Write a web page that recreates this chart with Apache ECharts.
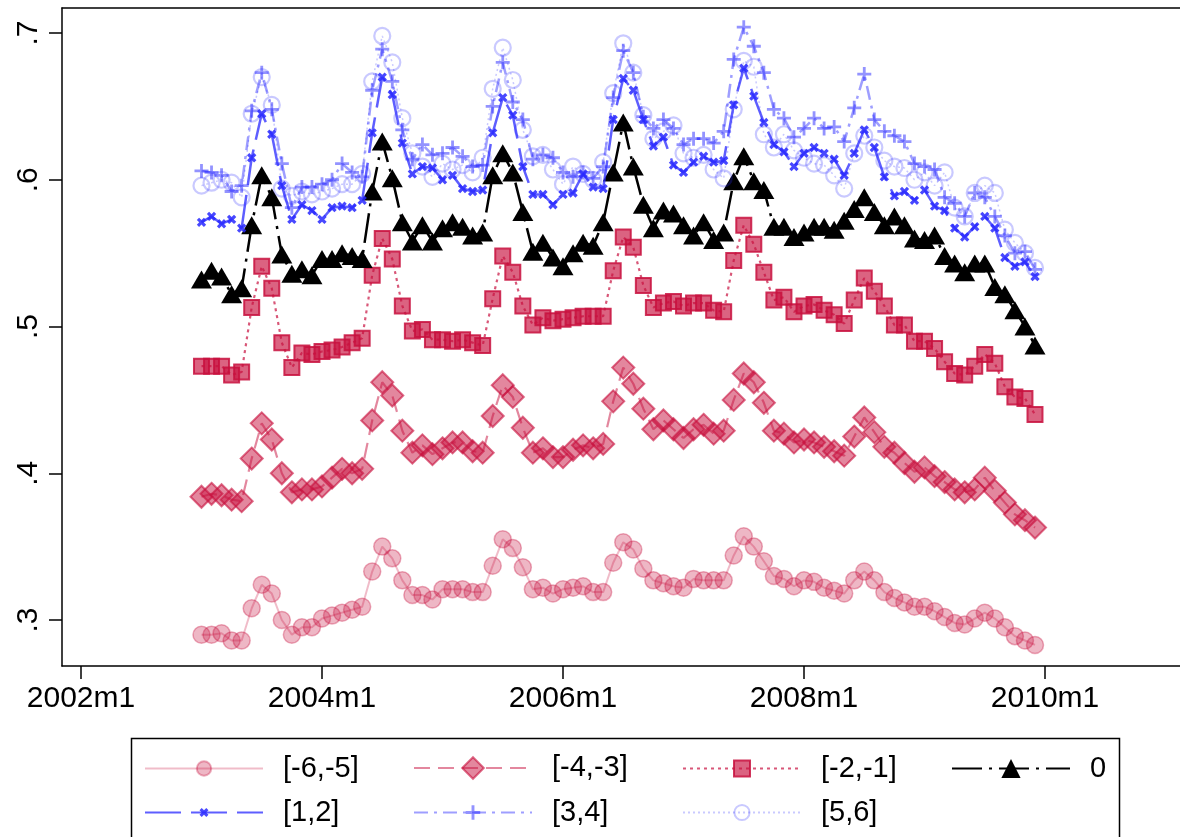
<!DOCTYPE html>
<html><head><meta charset="utf-8">
<script src="https://cdn.jsdelivr.net/npm/echarts@6/dist/echarts.min.js"></script>
<style>html,body{margin:0;padding:0;background:#fff}#c{width:1180px;height:837px}</style>
</head><body><div id="c"></div>
<script>
// months counted from 2002m1 (=0); data start at 2003m1
const startMonth = 12;
const xTickValues = [0, 24, 48, 72, 96];
const xTickLabels = ['2002m1', '2004m1', '2006m1', '2008m1', '2010m1'];
const yTickValues = [0.3, 0.4, 0.5, 0.6, 0.7];
const yTickLabels = ['.3', '.4', '.5', '.6', '.7'];
const seriesNames = ['[-6,-5]', '[-4,-3]', '[-2,-1]', '0', '[1,2]', '[3,4]', '[5,6]'];

const sM65 = [
  0.290, 0.290, 0.291, 0.286, 0.286, 0.308, 0.324, 0.318, 0.300, 0.290, 0.295, 0.295,
  0.301, 0.303, 0.305, 0.307, 0.309, 0.333, 0.350, 0.342, 0.327, 0.317, 0.317, 0.314,
  0.321, 0.321, 0.321, 0.319, 0.319, 0.337, 0.355, 0.349, 0.336, 0.321, 0.322, 0.318,
  0.321, 0.322, 0.323, 0.319, 0.319, 0.339, 0.353, 0.348, 0.335, 0.327, 0.325, 0.323,
  0.322, 0.328, 0.327, 0.327, 0.327, 0.344, 0.357, 0.350, 0.340, 0.330, 0.328, 0.323,
  0.327, 0.326, 0.322, 0.320, 0.318, 0.327, 0.333, 0.327, 0.319, 0.315, 0.312, 0.309,
  0.309, 0.306, 0.302, 0.298, 0.297, 0.301, 0.305, 0.301, 0.295, 0.289, 0.286, 0.283
];
const sM43 = [
  0.384, 0.386, 0.385, 0.382, 0.381, 0.410, 0.434, 0.423, 0.400, 0.387, 0.389, 0.389,
  0.391, 0.397, 0.403, 0.400, 0.403, 0.436, 0.462, 0.453, 0.429, 0.414, 0.419, 0.413,
  0.417, 0.421, 0.421, 0.415, 0.414, 0.439, 0.460, 0.452, 0.431, 0.414, 0.417, 0.411,
  0.411, 0.416, 0.419, 0.417, 0.420, 0.449, 0.472, 0.461, 0.444, 0.430, 0.436, 0.430,
  0.424, 0.430, 0.433, 0.427, 0.429, 0.450, 0.468, 0.462, 0.448, 0.429, 0.427, 0.421,
  0.423, 0.421, 0.418, 0.415, 0.412, 0.425, 0.438, 0.428, 0.418, 0.414, 0.407, 0.401,
  0.404, 0.398, 0.394, 0.389, 0.387, 0.389, 0.397, 0.388, 0.380, 0.372, 0.368, 0.363
];
const sM21 = [
  0.473, 0.473, 0.473, 0.467, 0.469, 0.513, 0.541, 0.526, 0.489, 0.472, 0.482, 0.481,
  0.483, 0.484, 0.486, 0.489, 0.492, 0.535, 0.560, 0.546, 0.514, 0.497, 0.498, 0.491,
  0.491, 0.490, 0.491, 0.489, 0.487, 0.519, 0.548, 0.537, 0.514, 0.501, 0.506, 0.504,
  0.505, 0.506, 0.507, 0.507, 0.507, 0.538, 0.561, 0.554, 0.528, 0.513, 0.516, 0.517,
  0.514, 0.516, 0.516, 0.511, 0.510, 0.545, 0.569, 0.556, 0.537, 0.518, 0.520, 0.510,
  0.514, 0.515, 0.511, 0.508, 0.502, 0.518, 0.533, 0.524, 0.514, 0.501, 0.501, 0.490,
  0.490, 0.485, 0.476, 0.468, 0.467, 0.473, 0.481, 0.475, 0.459, 0.452, 0.451, 0.440
];
const s0 = [
  0.532, 0.538, 0.534, 0.522, 0.526, 0.569, 0.603, 0.588, 0.549, 0.536, 0.539, 0.535,
  0.546, 0.546, 0.550, 0.548, 0.546, 0.592, 0.626, 0.601, 0.571, 0.558, 0.569, 0.558,
  0.567, 0.571, 0.568, 0.562, 0.564, 0.603, 0.618, 0.605, 0.578, 0.551, 0.557, 0.547,
  0.541, 0.550, 0.557, 0.555, 0.571, 0.605, 0.639, 0.609, 0.583, 0.567, 0.579, 0.577,
  0.569, 0.562, 0.571, 0.559, 0.564, 0.599, 0.616, 0.599, 0.593, 0.568, 0.568, 0.561,
  0.564, 0.568, 0.568, 0.566, 0.572, 0.580, 0.588, 0.578, 0.569, 0.575, 0.569, 0.560,
  0.559, 0.562, 0.548, 0.543, 0.537, 0.543, 0.543, 0.527, 0.522, 0.511, 0.500, 0.487
];
const sP12 = [
  0.571, 0.575, 0.570, 0.573, 0.567, 0.615, 0.645, 0.631, 0.596, 0.573, 0.583, 0.579,
  0.573, 0.581, 0.582, 0.581, 0.586, 0.632, 0.670, 0.658, 0.625, 0.604, 0.609, 0.608,
  0.600, 0.603, 0.594, 0.592, 0.593, 0.632, 0.656, 0.644, 0.609, 0.590, 0.590, 0.583,
  0.590, 0.591, 0.604, 0.595, 0.594, 0.641, 0.669, 0.661, 0.641, 0.623, 0.629, 0.610,
  0.605, 0.612, 0.616, 0.612, 0.613, 0.651, 0.676, 0.657, 0.639, 0.624, 0.619, 0.609,
  0.618, 0.622, 0.618, 0.614, 0.603, 0.618, 0.634, 0.622, 0.602, 0.589, 0.592, 0.586,
  0.593, 0.582, 0.579, 0.567, 0.561, 0.568, 0.575, 0.567, 0.547, 0.541, 0.544, 0.534
];
const sP34 = [
  0.606, 0.605, 0.603, 0.592, 0.596, 0.647, 0.673, 0.648, 0.611, 0.581, 0.595, 0.595,
  0.597, 0.600, 0.611, 0.605, 0.602, 0.661, 0.689, 0.667, 0.634, 0.614, 0.624, 0.617,
  0.618, 0.622, 0.616, 0.609, 0.610, 0.650, 0.680, 0.653, 0.641, 0.614, 0.617, 0.615,
  0.605, 0.602, 0.605, 0.601, 0.609, 0.656, 0.688, 0.673, 0.643, 0.635, 0.641, 0.635,
  0.624, 0.628, 0.628, 0.625, 0.633, 0.682, 0.704, 0.691, 0.673, 0.648, 0.642, 0.629,
  0.635, 0.642, 0.635, 0.636, 0.626, 0.649, 0.672, 0.641, 0.633, 0.630, 0.626, 0.611,
  0.609, 0.607, 0.588, 0.584, 0.575, 0.591, 0.588, 0.575, 0.562, 0.550, 0.551, 0.539
];
const sP56 = [
  0.596, 0.598, 0.600, 0.598, 0.588, 0.645, 0.670, 0.651, 0.594, 0.589, 0.592, 0.590,
  0.592, 0.594, 0.597, 0.597, 0.604, 0.667, 0.698, 0.680, 0.642, 0.618, 0.609, 0.602,
  0.611, 0.607, 0.610, 0.605, 0.615, 0.662, 0.690, 0.668, 0.634, 0.616, 0.617, 0.607,
  0.597, 0.609, 0.604, 0.600, 0.612, 0.659, 0.693, 0.673, 0.644, 0.628, 0.633, 0.637,
  0.618, 0.615, 0.617, 0.607, 0.601, 0.648, 0.681, 0.677, 0.631, 0.622, 0.631, 0.620,
  0.615, 0.611, 0.610, 0.603, 0.594, 0.618, 0.630, 0.622, 0.613, 0.609, 0.608, 0.600,
  0.605, 0.596, 0.605, 0.581, 0.575, 0.591, 0.596, 0.591, 0.566, 0.557, 0.550, 0.540
];

const FONT = '"Liberation Sans", Arial, Helvetica, sans-serif';
const crim = a => 'rgba(200,16,62,' + a + ')';
const blue = a => 'rgba(40,40,255,' + a + ')';
const PLUS = 'path://M4,0H6V4H10V6H6V10H4V6H0V4H4Z';
const CROSS = 'path://M3.4,0H6.6V3.4H10V6.6H6.6V10H3.4V6.6H0V3.4H3.4Z';
const pts = arr => arr.map((v, i) => [startMonth + i, v]);

const X_MIN = -1.89, X_MAX = 109.44;
const Y_MIN = 0.26865, Y_MAX = 0.71705;

const styles = [
  { data: sM65, symbol: 'circle', size: 17, item: { color: crim(0.3), borderColor: crim(0.35), borderWidth: 1.5 },
    line: { color: crim(0.28), width: 2, type: 'solid' }, legendH: 18 },
  { data: sM43, symbol: 'diamond', size: 22, item: { color: crim(0.5), borderColor: crim(0.62), borderWidth: 2 },
    line: { color: crim(0.5), width: 2.2, type: [16, 8] }, legendH: 27 },
  { data: sM21, symbol: 'rect', size: 15, item: { color: crim(0.65), borderColor: crim(0.85), borderWidth: 2 },
    line: { color: crim(0.7), width: 2.2, type: [3, 4] }, legendH: 20 },
  { data: s0, symbol: 'triangle', size: [21, 18], item: { color: '#000', borderColor: '#000', borderWidth: 0 },
    line: { color: '#000', width: 2.5, type: [30, 7, 3, 7] }, legendH: 24 },
  { data: sP12, symbol: CROSS, size: 10, rotate: 45, item: { color: blue(0.85), borderWidth: 0 },
    line: { color: blue(0.75), width: 2.5, type: [36, 10] }, legendH: 12 },
  { data: sP34, symbol: PLUS, size: 14, item: { color: blue(0.5), borderWidth: 0 },
    line: { color: blue(0.45), width: 2.5, type: [14, 6, 3, 6] }, legendH: 18 },
  { data: sP56, symbol: 'circle', size: 16, item: { color: 'rgba(0,0,0,0)', borderColor: blue(0.25), borderWidth: 2.2 },
    line: { color: blue(0.25), width: 1.5, type: [2, 3] }, legendH: 19 }
];

const series = styles.map((s, i) => ({
  name: seriesNames[i],
  type: 'line',
  data: pts(s.data),
  xAxisIndex: 0,
  symbol: s.symbol,
  symbolSize: s.size,
  symbolRotate: s.rotate || 0,
  showAllSymbol: true,
  itemStyle: s.item,
  lineStyle: s.line,
  emphasis: { disabled: true },
  animation: false,
  z: 2 + i
}));

const colLeft = [144, 413, 682, 951];
const rowCenter = [767, 811];
const TEXT_H = 26;
const legends = styles.map((s, i) => {
  const col = i % 4, row = Math.floor(i / 4);
  return {
    data: [seriesNames[i]],
    left: colLeft[col],
    top: rowCenter[row] - Math.max(s.legendH, TEXT_H) / 2,
    itemWidth: 118,
    itemHeight: s.legendH,
    selectedMode: false,
    padding: 0,
    textStyle: { fontSize: 29, color: '#000', fontFamily: FONT, padding: [0, 0, 0, 15] }
  };
});

const chart = echarts.init(document.getElementById('c'), null, { renderer: 'canvas' });
chart.setOption({
  animation: false,
  backgroundColor: '#fff',
  grid: { left: 62, top: 8, right: 0, bottom: 171, show: false, containLabel: false },
  xAxis: [{
    type: 'value', min: X_MIN, max: X_MAX,
    axisLine: { show: true, onZero: false, lineStyle: { color: '#000', width: 1.5 } },
    axisTick: { show: true, length: 13, lineStyle: { color: '#000', width: 1.5 }, customValues: xTickValues },
    axisLabel: { customValues: xTickValues, formatter: v => xTickLabels[xTickValues.indexOf(v)],
      fontSize: 30, color: '#000', fontFamily: FONT, margin: 18 },
    splitLine: { show: false }
  }, {
    type: 'value', position: 'top', min: X_MIN, max: X_MAX,
    axisLine: { show: true, onZero: false, lineStyle: { color: '#000', width: 1.5 } },
    axisTick: { show: false }, axisLabel: { show: false }, splitLine: { show: false }
  }],
  yAxis: {
    type: 'value', min: Y_MIN, max: Y_MAX,
    axisLine: { show: true, onZero: false, lineStyle: { color: '#000', width: 1.5 } },
    axisTick: { show: true, length: 13, lineStyle: { color: '#000', width: 1.5 }, customValues: yTickValues },
    axisLabel: { customValues: yTickValues, formatter: v => yTickLabels[yTickValues.findIndex(t => Math.abs(t - v) < 1e-9)],
      fontSize: 30, color: '#000', fontFamily: FONT, rotate: 90, margin: 18 },
    splitLine: { show: false }
  },
  legend: legends,
  graphic: [{
    type: 'rect', shape: { x: 131.5, y: 738.5, width: 988, height: 130 },
    style: { fill: 'none', stroke: '#000', lineWidth: 1.5 }, silent: true, z: 0
  }],
  series: series
});
</script></body></html>
